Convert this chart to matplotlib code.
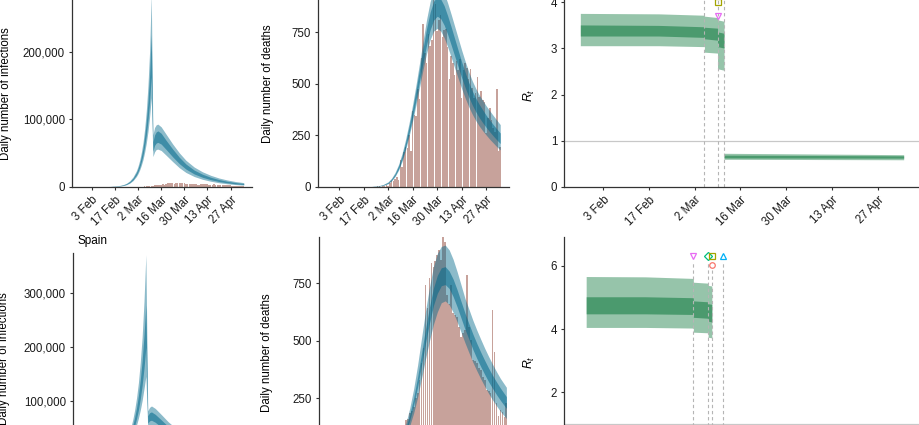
import numpy as np
import pandas as pd
import matplotlib
matplotlib.use("Agg")
import matplotlib.pyplot as plt
from matplotlib.ticker import FuncFormatter

plt.rcParams["font.family"] = ["Liberation Sans", "DejaVu Sans"]
plt.rcParams["mathtext.fontset"] = "custom"
plt.rcParams["mathtext.rm"] = "Liberation Sans"
plt.rcParams["mathtext.it"] = "Liberation Sans:italic"

# ---------------- data ----------------
tick_dates = ["2020-02-03", "2020-02-17", "2020-03-02", "2020-03-16",
              "2020-03-30", "2020-04-13", "2020-04-27"]
tick_labels = ["3 Feb", "17 Feb", "2 Mar", "16 Mar", "30 Mar", "13 Apr", "27 Apr"]

# Italy: daily reported cases (from 22 Feb)
it_cases_start = "2020-02-22"
it_cases = [14, 62, 53, 97, 93, 78, 250, 238, 240,
            566, 342, 466, 587, 769, 778, 1247, 1492, 1797, 977,
            2313, 2651, 2547, 3497, 2823, 4000, 3526, 4207, 5322, 5986,
            6557, 5560, 4789, 5249, 5210, 6153, 5959, 5974, 5217, 4050, 4053,
            4782, 4668, 4585, 4805, 4316, 3599, 3039, 3836, 4204, 3951,
            4694, 4092, 3153, 2972, 2667, 3786, 3493, 3491, 3047, 2256,
            2729, 3370, 2646, 3021, 2357, 2324, 1739, 2091, 2086, 1872,
            1965, 1900, 1389, 1221]

# Italy: daily reported deaths (from 22 Feb)
it_deaths_start = "2020-02-22"
it_deaths = [1, 1, 1, 4, 3, 2, 5, 4,
             8, 5, 18, 27, 28, 41, 49, 36, 133, 97,
             168, 196, 189, 250, 175, 368, 349, 345, 475, 427,
             627, 793, 651, 601, 743, 683, 712, 919, 889, 756, 812,
             837, 727, 760, 766, 681, 525, 636, 604, 542, 610,
             570, 619, 431, 566, 602, 578, 525, 575, 482, 433,
             454, 534, 437, 464, 420, 415, 260, 333, 382, 323,
             285, 269, 474, 174, 195]

# Italy: estimated daily infections (thousands)
it_inf_dates = ["2020-01-27", "2020-02-03", "2020-02-10", "2020-02-14", "2020-02-17",
                "2020-02-20", "2020-02-22", "2020-02-24", "2020-02-26", "2020-02-28",
                "2020-03-01", "2020-03-02", "2020-03-03", "2020-03-04", "2020-03-05",
                "2020-03-06", "2020-03-07", "2020-03-08", "2020-03-09", "2020-03-10",
                "2020-03-11", "2020-03-12", "2020-03-13", "2020-03-14", "2020-03-16",
                "2020-03-19", "2020-03-23", "2020-03-27", "2020-03-31", "2020-04-05",
                "2020-04-10", "2020-04-15", "2020-04-20", "2020-04-25", "2020-04-30",
                "2020-05-05"]
it_inf_lo95 = [0.005, 0.03, 0.16, 0.42, 0.72, 1.35, 2.05, 3.4, 5.7, 9.5, 15.5, 19.8,
               25.3, 32.2, 40.5, 51.5, 65, 82, 104, 132, 45, 52, 55.5, 56, 54, 47,
               37.5, 28.5, 21.5, 15.5, 11.4, 8.5, 6.3, 4.8, 3.6, 2.8]
it_inf_hi95 = [0.02, 0.08, 0.37, 0.85, 1.38, 2.4, 3.55, 5.6, 9.2, 15, 24, 31, 39.8,
               51.5, 66, 86, 113, 150, 201, 285, 77, 88, 92, 93, 89, 78, 63.5, 50.5,
               39.5, 29.5, 22.5, 17.3, 13.3, 10.4, 8.1, 6.5]
it_inf_lo50 = [0.008, 0.04, 0.21, 0.52, 0.88, 1.6, 2.4, 3.95, 6.6, 10.9, 17.8, 22.8,
               29.2, 37.3, 47, 60, 76.5, 98, 126, 163, 53, 61.5, 65, 66, 63.5, 55.5,
               44.5, 34.5, 26.5, 19.3, 14.4, 10.8, 8.1, 6.2, 4.7, 3.7]
it_inf_hi50 = [0.012, 0.06, 0.29, 0.69, 1.13, 2.0, 3.0, 4.85, 8.0, 13.1, 21.3, 27.3,
               35, 45, 57.5, 75, 97, 126, 166, 225, 67, 77, 81.5, 83, 79.5, 69, 56,
               44, 34, 25, 18.9, 14.4, 11, 8.5, 6.6, 5.2]

# Italy: estimated daily deaths
it_dth_dates = ["2020-02-10", "2020-02-17", "2020-02-21", "2020-02-25", "2020-02-28",
                "2020-03-02", "2020-03-04", "2020-03-06", "2020-03-08", "2020-03-10",
                "2020-03-12", "2020-03-14", "2020-03-16", "2020-03-18", "2020-03-20",
                "2020-03-22", "2020-03-24", "2020-03-26", "2020-03-28", "2020-03-30",
                "2020-04-01", "2020-04-03", "2020-04-05", "2020-04-07", "2020-04-09",
                "2020-04-11", "2020-04-13", "2020-04-15", "2020-04-17", "2020-04-19",
                "2020-04-21", "2020-04-23", "2020-04-25", "2020-04-27", "2020-04-29",
                "2020-05-01", "2020-05-03", "2020-05-05"]
it_dth_lo95 = [0.05, 0.3, 1.0, 3.0, 7, 16, 30, 51, 82, 125, 181, 247, 321, 402, 487,
               572, 650, 715, 757, 770, 757, 725, 680, 630, 578, 527, 477, 432, 390,
               354, 323, 296, 273, 252, 232, 214, 196, 180]
it_dth_hi95 = [0.2, 0.8, 2.2, 5.5, 11.5, 25, 43, 71, 110, 164, 232, 312, 401, 500, 605,
               712, 815, 900, 955, 980, 975, 942, 893, 838, 780, 722, 664, 610, 560,
               516, 479, 447, 420, 394, 370, 347, 325, 303]
it_dth_lo50 = [0.08, 0.4, 1.3, 3.5, 8, 18, 33, 56, 88, 134, 193, 262, 340, 426, 516,
               606, 692, 763, 810, 829, 818, 786, 741, 689, 636, 583, 530, 482, 438,
               399, 366, 337, 312, 289, 268, 248, 229, 211]
it_dth_hi50 = [0.13, 0.6, 1.7, 4.6, 10.2, 22, 39, 64, 102, 152, 217, 294, 380, 475, 575,
               675, 770, 849, 902, 923, 913, 880, 831, 777, 720, 663, 607, 556, 508,
               467, 432, 401, 374, 348, 325, 303, 282, 262]

# Italy: R_t (repeated dates mark the steps)
it_rt_dates = ["2020-01-27", "2020-02-20", "2020-03-05", "2020-03-05", "2020-03-09",
               "2020-03-09", "2020-03-11", "2020-03-11", "2020-05-05"]
it_rt_lo95 = [3.06, 3.06, 3.04, 2.92, 2.90, 2.56, 2.53, 0.60, 0.59]
it_rt_hi95 = [3.76, 3.75, 3.72, 3.70, 3.67, 3.62, 3.59, 0.73, 0.70]
it_rt_lo50 = [3.27, 3.27, 3.24, 3.21, 3.18, 3.04, 3.01, 0.63, 0.625]
it_rt_hi50 = [3.51, 3.50, 3.47, 3.46, 3.44, 3.36, 3.33, 0.69, 0.675]

it_npi_dates = ["2020-03-05", "2020-03-09", "2020-03-09", "2020-03-09", "2020-03-11"]
it_npi_types = ["School closure", "Self isolation", "Social distancing",
                "Public events", "Lockdown"]

# Spain: daily reported cases (from 1 Mar)
es_cases_start = "2020-03-01"
es_cases = [39, 36, 45, 57, 37, 141, 100, 173, 400, 622,
            582, 869, 2086, 1159, 1407, 2144, 1806, 2162, 4053, 2447,
            4964, 3394, 6368, 4749, 9630, 8271, 7933, 7516, 6875, 7846, 7967,
            8195, 7947, 7134, 6969, 5478, 5029, 5267, 6278, 5002, 5051,
            4754, 3804, 3268, 2442, 5103, 7304, 5891, 887, 6948, 1536,
            3968, 4211, 4635, 6740, 6174, 1729, 1831, 2793, 1308, 1695,
            1781, 1366, 838, 545, 1318, 996, 1122, 1410]

# Spain: daily reported deaths (from 1 Mar)
es_deaths_start = "2020-03-01"
es_deaths = [0, 0, 1, 0, 1, 2, 3, 5, 7, 11,
             17, 21, 36, 48, 62, 85, 110, 154, 160, 184,
             195, 212, 250, 271, 330, 402, 470, 741, 640, 772, 837,
             820, 845, 872, 893, 851, 951, 930, 700, 660, 740,
             620, 610, 603, 560, 516, 532, 545, 785, 560, 502,
             415, 410, 402, 380, 372, 343, 330, 285, 280, 271,
             632, 451, 228, 170, 198, 190, 169, 228]

# Spain: estimated daily infections (thousands)
es_inf_dates = ["2020-02-09", "2020-02-14", "2020-02-18", "2020-02-22", "2020-02-26",
                "2020-02-29", "2020-03-02", "2020-03-03", "2020-03-04", "2020-03-05",
                "2020-03-06", "2020-03-07", "2020-03-08", "2020-03-09", "2020-03-10",
                "2020-03-11", "2020-03-12", "2020-03-13", "2020-03-14", "2020-03-15",
                "2020-03-16", "2020-03-18", "2020-03-21", "2020-03-25", "2020-03-30",
                "2020-04-05", "2020-04-12", "2020-04-20", "2020-04-28", "2020-05-05",
                "2020-05-08"]
es_inf_lo95 = [0.07, 0.24, 0.65, 1.8, 4.8, 9.8, 15.2, 19, 23.5, 29.3, 36.5, 45.5, 55.5,
               68, 83, 101, 123, 146, 50, 54, 55, 51.5, 44, 34.5, 25, 17.3, 11.3, 7,
               4.6, 3.1, 2.6]
es_inf_hi95 = [0.24, 0.68, 1.55, 3.8, 8.8, 17, 26.3, 33, 41, 52, 66, 84, 106, 134, 172,
               219, 285, 372, 82, 88.5, 91, 86.5, 76, 61.5, 47, 34.5, 24, 16, 11.2, 8, 7]
es_inf_lo50 = [0.1, 0.33, 0.85, 2.25, 5.7, 11.5, 17.8, 22.3, 27.5, 34.5, 43.3, 54.5,
               67.5, 83.5, 104, 129, 161, 200, 59, 63.5, 64.5, 60.8, 52.5, 41.7, 30.9,
               22, 14.9, 9.6, 6.5, 4.5, 3.9]
es_inf_hi50 = [0.16, 0.48, 1.17, 3.0, 7.4, 14.7, 22.5, 28, 34.8, 43.8, 55.2, 70, 87.5,
               110, 139, 175, 222, 278, 73, 78.5, 80, 75.5, 66, 52.8, 39.5, 28.3, 19.3,
               12.6, 8.6, 6, 5.2]

# Spain: estimated daily deaths
es_dth_dates = ["2020-02-20", "2020-03-01", "2020-03-06", "2020-03-10", "2020-03-14",
                "2020-03-16", "2020-03-18", "2020-03-20", "2020-03-22", "2020-03-24",
                "2020-03-26", "2020-03-28", "2020-03-30", "2020-04-01", "2020-04-03",
                "2020-04-05", "2020-04-07", "2020-04-09", "2020-04-11", "2020-04-13",
                "2020-04-15", "2020-04-17", "2020-04-19", "2020-04-21", "2020-04-23",
                "2020-04-25", "2020-04-27", "2020-04-29", "2020-05-01", "2020-05-03",
                "2020-05-05", "2020-05-08"]
es_dth_lo95 = [0.3, 2.8, 10.3, 24, 45.5, 63, 85, 129, 185, 254, 336, 420, 499, 570, 625,
               665, 673, 656, 624, 582, 537, 491, 448, 406, 369, 334, 301, 270, 242,
               216, 192, 161]
es_dth_hi95 = [0.9, 5.6, 18.5, 41.6, 77, 104, 139, 206, 291, 394, 512, 629, 732, 821,
               879, 910, 916, 895, 854, 801, 743, 684, 637, 589, 546, 506, 467, 431,
               397, 365, 335, 297]
es_dth_lo50 = [0.45, 3.6, 12.7, 29.2, 55, 75.5, 101.5, 153, 219, 299, 394, 489, 575,
               652, 706, 739, 744, 727, 692, 648, 599, 550, 506, 462, 423, 387, 353,
               321, 292, 265, 240, 205]
es_dth_hi50 = [0.55, 4.4, 15.3, 34.8, 65, 88.5, 118.5, 177, 251, 341, 446, 551, 645,
               728, 784, 817, 822, 803, 768, 722, 671, 620, 574, 529, 488, 450, 414,
               380, 349, 320, 293, 256]

# Spain: R_t
es_rt_dates = ["2020-02-09", "2020-02-25", "2020-03-09", "2020-03-09", "2020-03-13",
               "2020-03-13", "2020-03-14", "2020-03-14", "2020-05-08"]
es_rt_lo95 = [4.05, 4.05, 4.03, 3.90, 3.88, 3.74, 3.72, 0.55, 0.53]
es_rt_hi95 = [5.66, 5.65, 5.60, 5.48, 5.45, 5.38, 5.36, 0.78, 0.74]
es_rt_lo50 = [4.48, 4.48, 4.46, 4.37, 4.34, 4.25, 4.22, 0.62, 0.60]
es_rt_hi50 = [5.02, 5.02, 4.99, 4.89, 4.86, 4.80, 4.78, 0.70, 0.67]

es_npi_dates = ["2020-03-09", "2020-03-13", "2020-03-14", "2020-03-14", "2020-03-17"]
es_npi_types = ["Public events", "School closure", "Social distancing",
                "Lockdown", "Self isolation"]

# ---------------- styles ----------------
BLUE = "#00688B"
GREEN = "#2E8B57"
BAR = "#8B3E2F"
AXC = "#333333"
FS = 8.3
npi_style = {
    "Lockdown": ("o", "#F8766D"),
    "Social distancing": ("s", "#A3A500"),
    "School closure": ("D", "#00BF7D"),
    "Self isolation": ("^", "#00B0F6"),
    "Public events": ("v", "#E76BF3"),
}

W, H = 920, 425
fig = plt.figure(figsize=(W / 100, H / 100), dpi=100)


def add_ax(left, right, top, bottom):
    return fig.add_axes([left / W, 1 - bottom / H, (right - left) / W, (bottom - top) / H])


def style(ax, xlim, ylim, yticks, comma=False, xlabels=True):
    ax.set_xlim(pd.Timestamp(xlim[0]), pd.Timestamp(xlim[1]))
    ax.set_ylim(ylim)
    for s in ("top", "right"):
        ax.spines[s].set_visible(False)
    for s in ("left", "bottom"):
        ax.spines[s].set_color(AXC)
        ax.spines[s].set_linewidth(0.9)
    ax.set_yticks(yticks)
    if comma:
        ax.yaxis.set_major_formatter(FuncFormatter(lambda v, p: f"{v:,.0f}"))
    ax.set_xticks(pd.to_datetime(tick_dates))
    ax.set_xticklabels(tick_labels, rotation=45, ha="right", va="top",
                       rotation_mode="anchor")
    ax.tick_params(length=2.5, width=0.8, color=AXC, labelsize=FS,
                   labelcolor="#1a1a1a", pad=2.5)
    if not xlabels:
        ax.tick_params(axis="x", labelbottom=False)


def bands(ax, dates, lo95, hi95, lo50, hi50, color, scale=1.0, a95=0.45, a50=0.55):
    d = pd.to_datetime(dates)
    ax.fill_between(d, np.array(lo95) * scale, np.array(hi95) * scale,
                    color=color, alpha=a95, lw=0)
    ax.fill_between(d, np.array(lo50) * scale, np.array(hi50) * scale,
                    color=color, alpha=a50, lw=0)


def bars(ax, start, vals):
    d = pd.date_range(start, periods=len(vals), freq="D")
    ax.bar(d, vals, width=0.9, color=BAR, alpha=0.48, lw=0)


def rt_panel(ax, dates, lo95, hi95, lo50, hi50, npi_dates, npi_types, base, step,
             line_top=None):
    ax.axhline(1, color="#c8c8c8", lw=0.9, zorder=1)
    bands(ax, dates, lo95, hi95, lo50, hi50, GREEN, a95=0.5, a50=0.72)
    levels = {}
    lowest = {}
    for dt, kind in zip(npi_dates, npi_types):
        k = levels.get(dt, 0)
        y = base - k * step
        levels[dt] = k + 1
        lowest[dt] = y
        m, c = npi_style[kind]
        ax.plot(pd.Timestamp(dt), y, marker=m, ms=4, mfc="none", mec=c, mew=0.9,
                ls="none", clip_on=False, zorder=4)
    for dt, y in lowest.items():
        top = line_top if line_top is not None else y - 0.15
        ax.vlines(pd.Timestamp(dt), 0, top, colors="#b5b5b5", lw=0.8,
                  linestyles=(0, (3, 2.5)), zorder=2)


it_xlim = ("2020-01-22", "2020-05-10")
es_xlim = ("2020-02-04 16:00", "2020-05-09 08:00")

# ---------- Italy (top row) ----------
ax1 = add_ax(72, 252, 0, 187)
bars(ax1, it_cases_start, it_cases)
bands(ax1, it_inf_dates, it_inf_lo95, it_inf_hi95, it_inf_lo50, it_inf_hi50, BLUE, 1000)
style(ax1, it_xlim, (0, 276600), [0, 100000, 200000], comma=True)
ax1.set_ylabel("Daily number of infections", fontsize=FS)
ax1.yaxis.set_label_coords((12.5 - 72) / 180, 0.5)

ax2 = add_ax(318, 509, -19, 187)
bars(ax2, it_deaths_start, it_deaths)
bands(ax2, it_dth_dates, it_dth_lo95, it_dth_hi95, it_dth_lo50, it_dth_hi50, BLUE)
style(ax2, it_xlim, (0, 1000), [0, 250, 500, 750])
ax2.set_ylabel("Daily number of deaths", fontsize=FS)
ax2.yaxis.set_label_coords((274 - 318) / 191, 0.5)

ax3 = add_ax(564, 920, 0, 187)
rt_panel(ax3, it_rt_dates, it_rt_lo95, it_rt_hi95, it_rt_lo50, it_rt_hi50,
         it_npi_dates, it_npi_types, 4.3, 0.3, line_top=4.3)
style(ax3, it_xlim, (0, 4.05), [0, 1, 2, 3, 4])
ax3.set_ylabel("$R_t$", fontsize=FS + 0.5)
ax3.yaxis.set_label_coords((537 - 564) / 356, (187 - 95) / 187)

# ---------- Spain (bottom row) ----------
fig.text(78 / W, 1 - 241 / H, "Spain", ha="left", va="center", fontsize=FS + 0.2)

ax4 = add_ax(73, 253, 253, 455)
bars(ax4, es_cases_start, es_cases)
bands(ax4, es_inf_dates, es_inf_lo95, es_inf_hi95, es_inf_lo50, es_inf_hi50, BLUE, 1000)
style(ax4, es_xlim, (0, 375000), [100000, 200000, 300000], comma=True, xlabels=False)
ax4.set_ylabel("Daily number of infections", fontsize=FS)
ax4.yaxis.set_label_coords((10.5 - 73) / 180, (455 - 359) / 202)

ax5 = add_ax(319, 509, 237, 455.5)
bars(ax5, es_deaths_start, es_deaths)
bands(ax5, es_dth_dates, es_dth_lo95, es_dth_hi95, es_dth_lo50, es_dth_hi50, BLUE)
style(ax5, es_xlim, (0, 951), [250, 500, 750], xlabels=False)
ax5.set_ylabel("Daily number of deaths", fontsize=FS)
ax5.yaxis.set_label_coords((273 - 319) / 190, (455.5 - 352.7) / 218.5)

ax6 = add_ax(564, 920, 237, 455.5)
rt_panel(ax6, es_rt_dates, es_rt_lo95, es_rt_hi95, es_rt_lo50, es_rt_hi50,
         es_npi_dates, es_npi_types, 6.3, 0.27)
style(ax6, es_xlim, (0, 6.91), [2, 4, 6], xlabels=False)
ax6.set_ylabel("$R_t$", fontsize=FS + 0.5)
ax6.yaxis.set_label_coords((537 - 564) / 356, (455.5 - 362) / 218.5)

fig.savefig("out.png", dpi=100)
